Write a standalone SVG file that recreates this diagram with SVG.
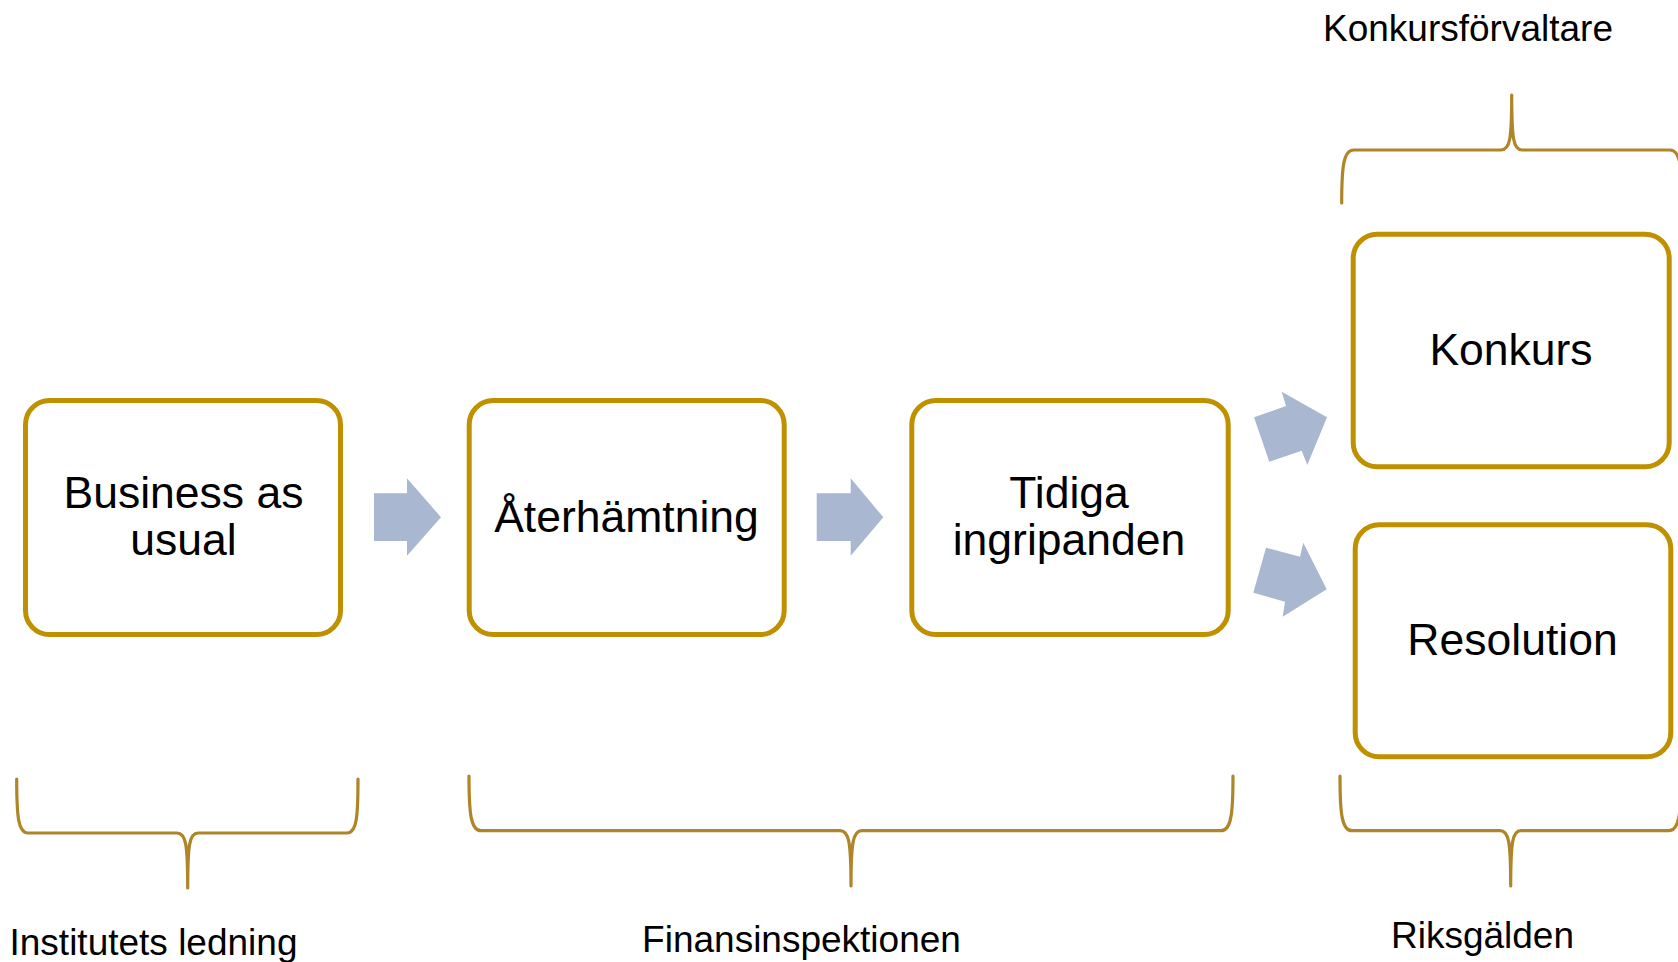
<svg xmlns="http://www.w3.org/2000/svg" width="1678" height="962" viewBox="0 0 1678 962">
<style>
.box{fill:#FFFFFF;stroke:#BF9000;stroke-width:5}
.arr{fill:#A9B7D1;stroke:none}
.brace{fill:none;stroke:#AE8529;stroke-width:3.2;stroke-linecap:round;stroke-linejoin:round}
.t{font-family:"Liberation Sans",Arial,sans-serif;fill:#000000;text-anchor:middle}
.big{font-size:44.5px}
.lbl{font-size:37px}
</style>
<rect width="1678" height="962" fill="#FFFFFF"/>
<g id="connectors">
<polygon class="arr" points="374,493.3 407,493.3 407,478.3 441,517.3 407,555.7 407,541 374,541"/>
<polygon class="arr" points="816.7,493.3 850.7,493.3 850.7,478.3 883.3,517.3 850.7,555.7 850.7,541 816.7,541"/>
<polygon class="arr" points="1254,417.3 1286,406 1281.7,391.7 1327,417.3 1307.3,465 1301.7,450.7 1269.3,461.7"/>
<polygon class="arr" points="1266,547.7 1300,556.7 1303.3,542.7 1326.7,589.3 1282.7,616.7 1285,601.7 1253.3,592.7"/>
</g>
<g id="node-business">
<rect class="box" x="25.5" y="400.5" width="315" height="234" rx="24"/>
<text class="t big" x="183.5" y="508">Business as</text>
<text class="t big" x="183.5" y="555">usual</text>
</g>
<g id="node-aterhamtning">
<rect class="box" x="469.2" y="400.5" width="315" height="234" rx="24"/>
<text class="t big" x="626.5" y="531.7">Återhämtning</text>
</g>
<g id="node-tidiga">
<rect class="box" x="911.8" y="400.5" width="316.4" height="234" rx="24"/>
<text class="t big" x="1069" y="507.7">Tidiga</text>
<text class="t big" x="1069" y="555">ingripanden</text>
</g>
<g id="node-konkurs">
<rect class="box" x="1353.2" y="234.2" width="316" height="232.6" rx="24"/>
<text class="t big" x="1511" y="365">Konkurs</text>
</g>
<g id="node-resolution">
<rect class="box" x="1355.2" y="524.8" width="315.6" height="232" rx="24"/>
<text class="t big" x="1512.5" y="655">Resolution</text>
</g>
<g id="brace-institutet">
<path class="brace" d="M16.7,779 C16.7,815 18,833 28,833 L177,833 C186,833 187.7,845 187.7,888 C187.7,845 189.4,833 198,833 L347,833 C357,833 358,815 358,779"/>
<text class="t lbl" x="153.5" y="955">Institutets ledning</text>
</g>
<g id="brace-fi">
<path class="brace" d="M469,776 C469,812 470.5,830.7 481,830.7 L840,830.7 C849,830.7 851,842 851,886 C851,842 853,830.7 862,830.7 L1221,830.7 C1231.5,830.7 1233,812 1233,776"/>
<text class="t lbl" x="801.5" y="952">Finansinspektionen</text>
</g>
<g id="brace-riksgalden">
<path class="brace" d="M1340,776 C1340,812 1341.5,830.7 1352,830.7 L1500,830.7 C1509,830.7 1510.7,842 1510.7,886 C1510.7,842 1512.4,830.7 1521,830.7 L1669,830.7 C1679.5,830.7 1681,812 1681,776"/>
<text class="t lbl" x="1482.5" y="948.3">Riksgälden</text>
</g>
<g id="brace-konkursforvaltare">
<path class="brace" d="M1341.7,203 C1341.7,168 1343.2,150 1353.7,150 L1501,150 C1510,150 1511.7,139 1511.7,95 C1511.7,139 1513.4,150 1522,150 L1670,150 C1680.5,150 1682,168 1682,203"/>
<text class="t lbl" x="1468" y="40.7">Konkursförvaltare</text>
</g>
</svg>
